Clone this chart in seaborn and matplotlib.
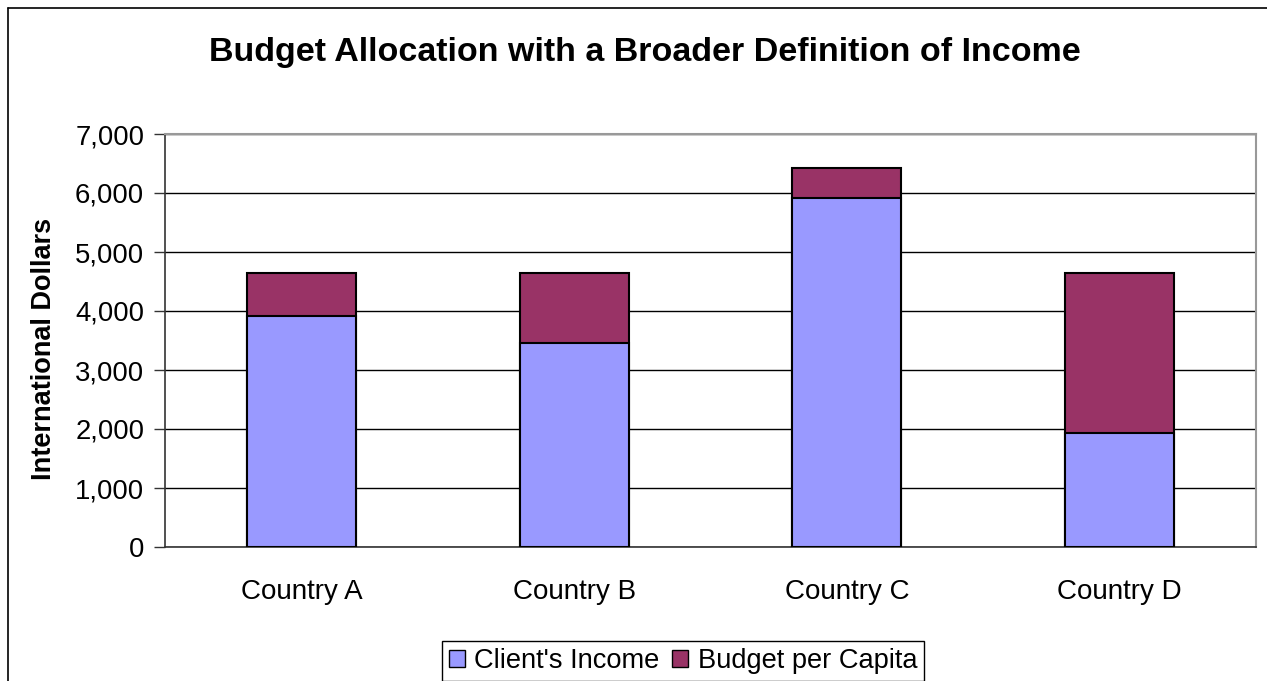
import matplotlib
matplotlib.use("Agg")
import matplotlib.pyplot as plt
import matplotlib.ticker as mticker
from matplotlib.lines import Line2D
from matplotlib.patches import Patch
import seaborn as sns
import pandas as pd

countries = ["Country A", "Country B", "Country C", "Country D"]
client_income = [3910, 3460, 5910, 1930]
budget_per_capita = [730, 1180, 510, 2710]

INCOME_COLOR = "#9999FF"
BUDGET_COLOR = "#993366"


def main():
    sns.set_style("white")
    plt.rcParams["font.family"] = ["Liberation Sans", "DejaVu Sans"]
    plt.rcParams["text.color"] = "black"
    plt.rcParams["axes.labelcolor"] = "black"
    plt.rcParams["xtick.color"] = "black"
    plt.rcParams["ytick.color"] = "black"

    df = pd.DataFrame({
        "country": countries,
        "income": client_income,
        "budget": budget_per_capita,
    })
    df["total"] = df["income"] + df["budget"]

    fig = plt.figure(figsize=(12.67, 6.81), dpi=100)
    ax = fig.add_axes([165 / 1267, 1 - 547 / 681, (1256 - 165) / 1267, (547 - 134) / 681])

    # stacked bars: total first, income drawn over it
    sns.barplot(data=df, x="country", y="total", color=BUDGET_COLOR, width=0.4,
                edgecolor="black", linewidth=1.5, saturation=1, ax=ax, zorder=3)
    sns.barplot(data=df, x="country", y="income", color=INCOME_COLOR, width=0.4,
                edgecolor="black", linewidth=1.5, saturation=1, ax=ax, zorder=3)

    ax.set_xlim(-0.5, 3.5)
    ax.set_ylim(0, 7000)
    ax.set_yticks(range(0, 7001, 1000))
    ax.yaxis.set_major_formatter(mticker.FuncFormatter(lambda v, p: f"{int(v):,}"))
    ax.yaxis.grid(True, color="black", linewidth=1)
    ax.set_axisbelow(True)

    ax.set_xticks(range(len(countries)))
    ax.set_xticklabels(countries)
    ax.set_xticks([-0.5, 0.5, 1.5, 2.5, 3.5], minor=True)
    ax.tick_params(axis="x", which="major", length=0, pad=23, labelsize=20, labelcolor="black")
    ax.tick_params(axis="x", which="minor", length=8, width=1, color="#333333", direction="out")
    ax.tick_params(axis="y", length=8, width=1, color="#333333", direction="out", pad=7,
                   labelsize=19.8, left=True, labelcolor="black")

    ax.set_xlabel("")
    ax.set_ylabel("International Dollars", fontsize=19.5, fontweight="bold", color="black")
    ax.yaxis.set_label_coords(-0.099, 0.479)

    for side in ["left", "bottom"]:
        ax.spines[side].set_color("#333333")
        ax.spines[side].set_linewidth(1.2)
    for side in ["top", "right"]:
        ax.spines[side].set_visible(True)
        ax.spines[side].set_color("#999999")
        ax.spines[side].set_linewidth(1.5)

    fig.text(645 / 1267, 1 - 53 / 681, "Budget Allocation with a Broader Definition of Income",
             ha="center", va="center", fontsize=24.5, fontweight="bold", color="black")

    handles = [Patch(facecolor=INCOME_COLOR, edgecolor="black", linewidth=1),
               Patch(facecolor=BUDGET_COLOR, edgecolor="black", linewidth=1)]
    leg = fig.legend(handles, ["Client's Income", "Budget per Capita"], loc="center",
                     bbox_to_anchor=(683 / 1267, 1 - 661 / 681), ncol=2, fontsize=19.6,
                     frameon=True, fancybox=False, edgecolor="black", framealpha=1,
                     handlelength=0.6, handleheight=0.6, handletextpad=0.35,
                     columnspacing=0.45, borderpad=0.25, borderaxespad=0)
    leg.get_frame().set_linewidth(1)
    for t in leg.get_texts():
        t.set_color("black")

    # outer chart border (left and top edges visible)
    fig.add_artist(Line2D([8 / 1267, 8 / 1267], [0, 1 - 8 / 681], color="black", linewidth=1.2,
                          transform=fig.transFigure))
    fig.add_artist(Line2D([8 / 1267, 1], [1 - 8 / 681, 1 - 8 / 681], color="black", linewidth=1.2,
                          transform=fig.transFigure))

    fig.savefig("out.png", dpi=100)


if __name__ == "__main__":
    main()
